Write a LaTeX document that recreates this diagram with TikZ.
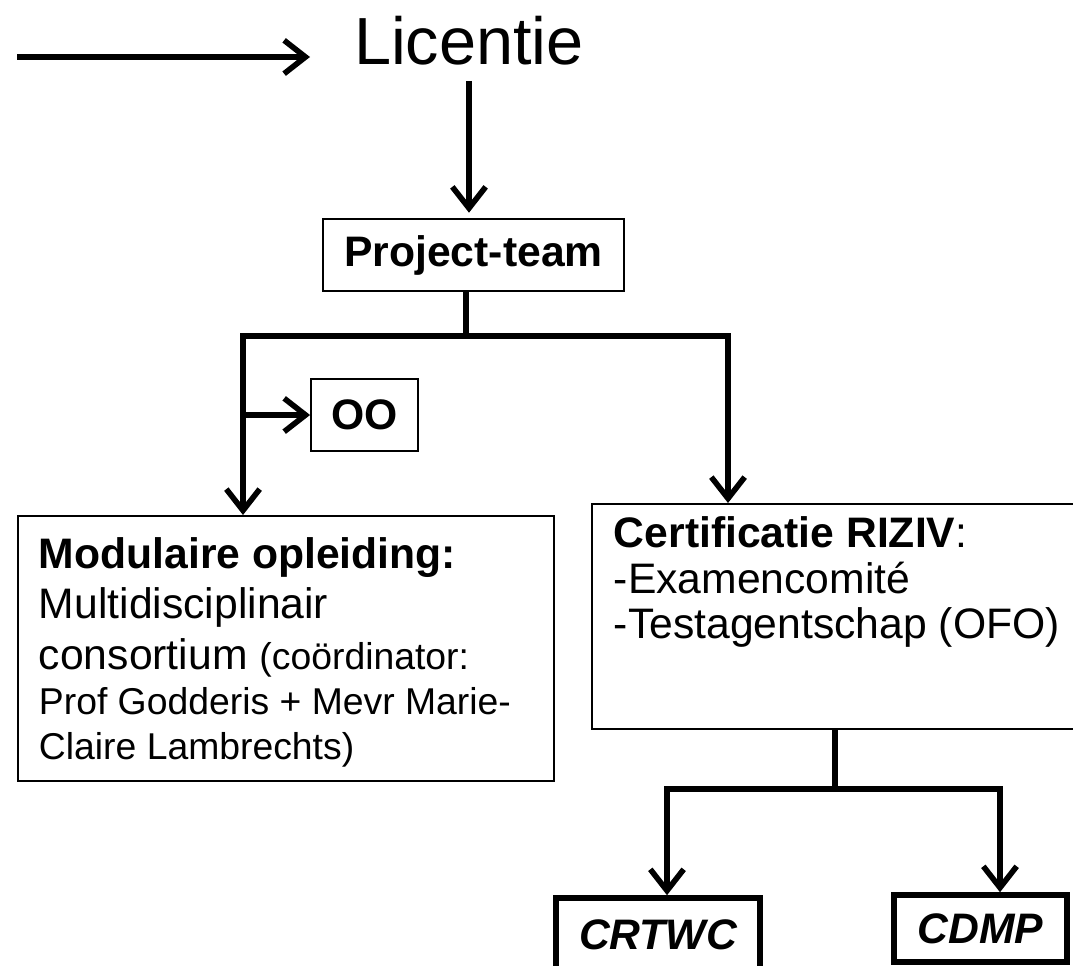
\documentclass[tikz,border=0pt]{standalone}
\usepackage{fontspec}
\setmainfont{Liberation Sans}
\usetikzlibrary{arrows.meta,positioning}

\tikzset{
  box/.style={draw, line width=1.4pt, inner sep=0pt},
  heavybox/.style={draw, line width=4.2pt, inner sep=0pt, font=\bfseries\itshape},
  conn/.style={line width=4.2pt}
}

\begin{document}
\begin{tikzpicture}[x=0.75pt, y=-0.75pt, >={Straight Barb[length=16pt,width=25pt]}]
  \useasboundingbox (0,0) rectangle (1073,966);
  \clip (0,0) rectangle (1073,966);
  \fontsize{32}{38}\selectfont
  \node[anchor=base, font=\fontsize{50}{60}\selectfont] (lic) at (469,65) {Licentie};
  \node[box, font=\bfseries, minimum width=225.75pt, minimum height=54pt] (proj) at (473.5,255) {Project-team};
  \node[box, font=\bfseries, minimum width=80.25pt, minimum height=54pt] (oo) at (364.5,415) {OO};
  \node[box, anchor=north west, inner xsep=15.75pt] (mod) at (17,515) {\parbox[t][198.75pt][t]{370.5pt}{\vspace*{16.1pt}%
    {\bfseries Modulaire opleiding:}\\
    Multidisciplinair\\
    consortium {\fontsize{28}{38}\selectfont(coördinator:}\\[-4.25pt]
    {\fontsize{28}{38}\selectfont Prof Godderis + Mevr Marie-}\\[-4.25pt]
    {\fontsize{28}{38}\selectfont Claire Lambrechts)}}};
  \node[box, anchor=north west, inner xsep=16.5pt] (cert) at (591,503) {\parbox[t][168.75pt][t]{341.25pt}{\fontsize{32}{34}\selectfont\vspace*{9.7pt}%
    {\bfseries Certificatie RIZIV}:\\
    -Examencomité\\
    -Testagentschap (OFO)}};
  \node[heavybox, minimum width=153pt, minimum height=55.5pt] (crtwc) at (658,935) {CRTWC};
  \node[heavybox, minimum width=129.75pt, minimum height=50.25pt] (cdmp) at (980.5,928.5) {CDMP};

  \coordinate (a1) at (17,57);
  \coordinate (a2) at (310,57);
  \draw[conn,->] (a1) -- (a2);
  \draw[conn,->,shorten >=4pt] ([yshift=-12pt]lic.base) -- (lic.base |- proj.north);

  \coordinate (split) at (466,336);
  \coordinate (lsplit) at (243,336);
  \coordinate (rsplit) at (728,336);
  \draw[conn] (proj.south -| split) -- (split);
  \draw[conn,<->] (lsplit |- mod.north) -- (lsplit) -- (rsplit) -- (rsplit |- cert.north);
  \draw[conn,->] (lsplit |- oo) -- (oo.west);

  \coordinate (split2) at (835,789);
  \coordinate (lsplit2) at (667,789);
  \coordinate (rsplit2) at (1000,789);
  \draw[conn] (cert.south -| split2) -- (split2);
  \draw[conn,<->] (lsplit2 |- crtwc.north) -- (lsplit2) -- (rsplit2) -- (rsplit2 |- cdmp.north);
\end{tikzpicture}
\end{document}
